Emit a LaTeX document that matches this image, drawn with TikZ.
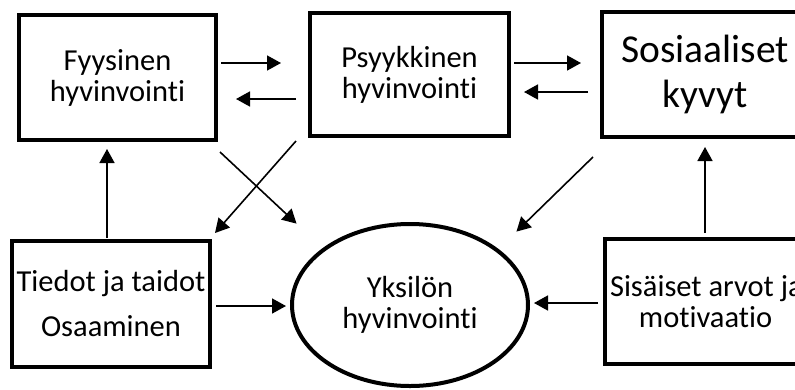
\documentclass[tikz,border=0pt]{standalone}
\usepackage{fontspec}
\setmainfont{Carlito}[Ligatures=NoCommon]
\usetikzlibrary{calc}
\usetikzlibrary{arrows.meta}
\usetikzlibrary{shapes.geometric}

\begin{document}
\begin{tikzpicture}[x=1pt,y=-1pt,
    box/.style={draw,line width=4pt,rectangle,align=center,inner sep=0pt,
        font=\fontsize{30.5}{31}\selectfont},
    arr/.style={line width=1.6pt,-{Triangle[length=14pt,width=15pt]}}]
    \useasboundingbox (0,0) rectangle (795,389);
    \clip (0,0) rectangle (795,389);
    % boxes
    \node[box,minimum width=197pt,minimum height=125pt] (fyys) at (117.5,77.5) {Fyysinen\\hyvinvointi};
    \node[box,minimum width=199pt,minimum height=123pt] (psyk) at (409.5,74.5) {Psyykkinen\\hyvinvointi};
    \node[box,minimum width=206pt,minimum height=125pt,
        font=\fontsize{39.5}{45}\selectfont] (sos) at (705,74.5) {Sosiaaliset\\kyvyt};
    \node[box,minimum width=198pt,minimum height=126pt] (tied) at (111,304) {Tiedot ja taidot\\[14pt]Osaaminen};
    \node[box,ellipse,minimum width=236pt,minimum height=162pt] (ell) at (410,305) {Yksilön\\hyvinvointi};
    \node[box,minimum width=201pt,minimum height=125pt] (sis) at (705.5,301.5)
        {\makebox[191pt][l]{Sisäiset arvot ja}\\motivaatio};
    % top row
    \draw[arr] ($(fyys.east)+(3,-14.5)$) -- ($(psyk.west)+(-27,-11.5)$);
    \draw[arr] ($(psyk.west)+(-12,24.5)$) -- ($(fyys.east)+(18,21.5)$);
    \draw[arr] ($(psyk.east)+(3,-11.5)$) -- ($(sos.west)+(-19,-11.5)$);
    \draw[arr] ($(sos.west)+(-12,17.5)$) -- ($(psyk.east)+(13,17.5)$);
    % upwards
    \draw[arr] ($(tied.north)+(-4,-1)$) -- ($(fyys.south)+(-10.5,7)$);
    \draw[arr] ($(sis.north)+(-0.5,-4)$) -- ($(sos.south)+(0,8)$);
    % diagonals
    \draw[arr] ($(fyys.south east)+(2,10)$) -- ($(ell.north west)+(-28.6,-22.7)$);
    \draw[arr] ($(psyk.south west)+(-12,3)$) -- ($(tied.north east)+(3,-6)$);
    \draw[arr] ($(sos.south west)+(-7,18)$) -- ($(ell.north east)+(21.6,-14.7)$);
    % into the ellipse
    \draw[arr] ($(tied.east)+(4,2)$) -- ($(ell.west)+(-4,1)$);
    \draw[arr] ($(sis.west)+(-5,1.5)$) -- ($(ell.east)+(4,-2)$);
\end{tikzpicture}
\end{document}
